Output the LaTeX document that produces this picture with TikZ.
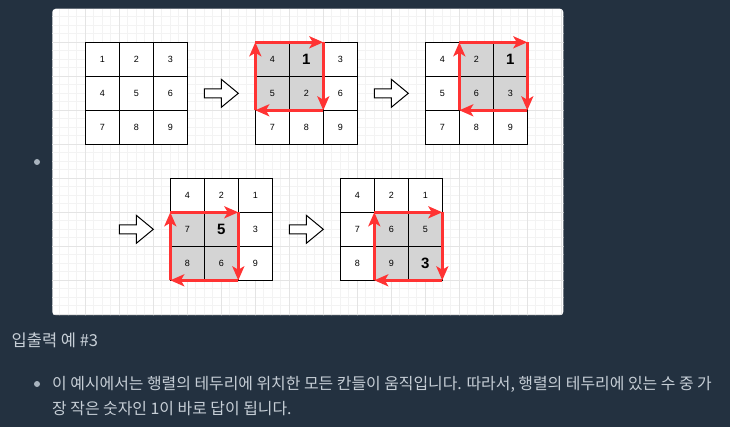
\documentclass[tikz,border=0pt]{standalone}
\usepackage{fontspec}
\setmainfont{Liberation Sans}
\newfontfamily\krfont{Noto Sans CJK KR}
\usetikzlibrary{positioning,calc,arrows.meta}

\definecolor{pagebg}{HTML}{233140}
\definecolor{txtcol}{HTML}{C6CED6}
\definecolor{dotcol}{HTML}{A9B4BF}
\definecolor{minorline}{HTML}{F3F3F3}
\definecolor{majorline}{HTML}{E4E4E4}
\definecolor{cellgray}{HTML}{D4D4D4}
\definecolor{rotred}{HTML}{FF3333}

% one 3x3 board: name, left x, top y, list of style/value
\newcommand{\numgrid}[4]{%
  \foreach \s/\v [count=\i from 0] in {#4}{%
    \pgfmathtruncatemacro{\r}{int(\i/3)+1}
    \pgfmathtruncatemacro{\c}{mod(\i,3)+1}
    \node[\s] (#1-\r-\c) at (#2+\c*34-17, #3+\r*34-17) {\v};
  }}
% four red arrows round a 2x2 block (top-left cell, bottom-right cell)
\newcommand{\rotarrows}[2]{%
  \draw[rot] (#1.west |- #2.south) -- (#1.north west);
  \draw[rot] (#1.north west) -- (#2.east |- #1.north);
  \draw[rot] (#2.east |- #1.north) -- (#2.south east);
  \draw[rot] (#2.south east) -- (#1.west |- #2.south);
}
\newcommand{\bigarrow}[1]{%
  \draw[hollow, shift={(#1)}] (0,-4.5) -- (17,-4.5) -- (17,-14) -- (34,0)
    -- (17,14) -- (17,4.5) -- (0,4.5) -- cycle;
}

\begin{document}
\begin{tikzpicture}[
    x=1pt, y=-1pt,
    cell/.style={draw=black, line width=1pt, fill=white, minimum size=34pt,
      inner sep=0pt, outer sep=0pt, font=\fontsize{9}{10}\selectfont},
    cellon/.style={cell, fill=cellgray},
    cellbig/.style={cellon, font=\bfseries\fontsize{15}{17}\selectfont},
    rot/.style={draw=rotred, line width=2.8pt,
      -{Stealth[length=14pt, width=12pt, inset=3.5pt, fill=rotred]}},
    hollow/.style={draw=black, fill=white, line width=1pt},
    dot/.style={circle, fill=dotcol, inner sep=0pt, minimum size=6pt},
    txt/.style={anchor=west, inner sep=0pt, text=txtcol}
  ]
    \useasboundingbox (0,0) rectangle (730,427);
    \fill[pagebg] (0,0) rectangle (730,427);

    % panel with squared paper
    \fill[white, rounded corners=3pt] (52.3,9) rectangle (563.3,315);
    \begin{scope}
      \clip[rounded corners=3pt] (52.3,9) rectangle (563.3,315);
      \begin{scope}[shift={(17.3,8.3)}]
        \draw[minorline, line width=0.8pt, step=8.5pt] (30,-5) grid (550,310);
        \draw[majorline, line width=0.9pt, step=34pt] (30,-5) grid (550,310);
      \end{scope}
    \end{scope}

    \node[dot] (pt1) at (37,162) {};

    % boards
    \numgrid{ga}{85.3}{42.3}{cell/1,cell/2,cell/3,cell/4,cell/5,cell/6,cell/7,cell/8,cell/9}
    \numgrid{gb}{255.3}{42.3}{cellon/4,cellbig/1,cell/3,cellon/5,cellon/2,cell/6,cell/7,cell/8,cell/9}
    \numgrid{gc}{425.3}{42.3}{cell/4,cellon/2,cellbig/1,cell/5,cellon/6,cellon/3,cell/7,cell/8,cell/9}
    \numgrid{gd}{170.3}{178.3}{cell/4,cell/2,cell/1,cellon/7,cellbig/5,cell/3,cellon/8,cellon/6,cell/9}
    \numgrid{ge}{340.3}{178.3}{cell/4,cell/2,cell/1,cell/7,cellon/6,cellon/5,cell/8,cellon/9,cellbig/3}

    \rotarrows{gb-1-1}{gb-2-2}
    \rotarrows{gc-1-2}{gc-2-3}
    \rotarrows{gd-2-1}{gd-3-2}
    \rotarrows{ge-2-2}{ge-3-3}

    % hollow arrows between boards
    \coordinate (ar1) at (204.3,93.3);
    \coordinate (ar2) at (374.3,93.3);
    \coordinate (ar3) at (119.3,229.3);
    \coordinate (ar4) at (289.3,229.3);
    \bigarrow{ar1}
    \bigarrow{ar2}
    \bigarrow{ar3}
    \bigarrow{ar4}

    % text below the panel
    \node[txt, font=\krfont\fontsize{16.5}{19}\selectfont] (head) at (11.5,340) {입출력 예 \#3};
    \node[dot] (pt2) at (37,384) {};
    \node[txt, font=\krfont\fontsize{15.9}{18}\selectfont] (line1) at (52,384)
      {이 예시에서는 행렬의 테두리에 위치한 모든 칸들이 움직입니다. 따라서, 행렬의 테두리에 있는 수 중 가};
    \node[txt, font=\krfont\fontsize{15.9}{18}\selectfont] (line2) at (52,409)
      {장 작은 숫자인 1이 바로 답이 됩니다.};
  \end{tikzpicture}
\end{document}
